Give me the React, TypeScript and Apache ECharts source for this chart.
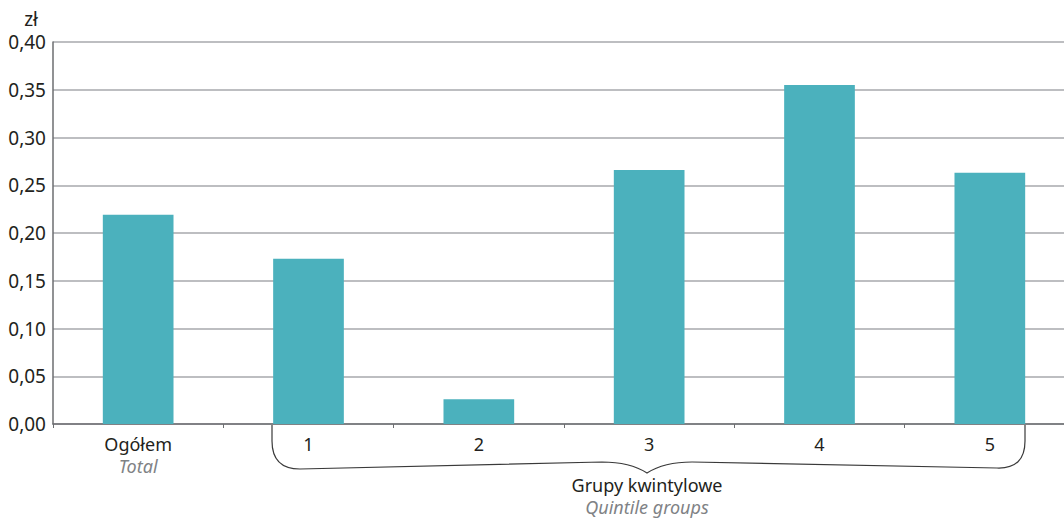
import React, { useEffect, useRef } from "react";
import * as echarts from "echarts";

const categories = ["Ogółem", "1", "2", "3", "4", "5"];
const subLabels = ["Total", "", "", "", "", ""];
const values = [0.219, 0.173, 0.026, 0.266, 0.355, 0.263];
const groupTitle = "Grupy kwintylowe";
const groupSubtitle = "Quintile groups";
const unitLabel = "zł";

const FONT = "'Noto Sans', sans-serif";

const bracePath =
  "M0,0 L0,16 Q0,44 28,44 L330,37 Q358,37 375,48 Q392,37 420,37 L725,43 Q753,44 753,16 L753,0";

export default function App() {
  const ref = useRef<HTMLDivElement>(null);
  useEffect(() => {
    document.body.style.margin = "0";
    try {
      echarts.graphic.registerShape("brace", echarts.graphic.extendPath(bracePath, {}) as any);
    } catch (e) {}
    const chart = echarts.init(ref.current!, null, { renderer: "svg" });
    chart.setOption({
      animation: false,
      textStyle: { fontFamily: FONT },
      grid: {
        left: 53,
        top: 42,
        width: 1022,
        height: 382,
        containLabel: false,
        outerBoundsMode: "none",
      },
      xAxis: {
        type: "category",
        data: categories,
        axisLine: { lineStyle: { color: "#6d6e71", width: 1.5 } },
        axisTick: { show: true, length: 4, lineStyle: { color: "#6d6e71" } },
        axisLabel: {
          interval: 0,
          margin: 9,
          formatter: (v: string, i: number) =>
            subLabels[i] ? `{a|${v}}\n{b|${subLabels[i]}}` : `{a|${v}}`,
          rich: {
            a: { fontSize: 18, color: "#231f20", fontFamily: FONT, lineHeight: 22 },
            b: { fontSize: 18, color: "#808285", fontStyle: "italic", fontFamily: FONT, lineHeight: 22 },
          },
        },
      },
      yAxis: {
        type: "value",
        min: 0,
        max: 0.4,
        interval: 0.05,
        name: unitLabel,
        nameLocation: "end",
        nameGap: 14,
        nameTextStyle: { fontSize: 19, color: "#231f20", align: "right", padding: [0, 15, 0, 0] },
        axisLine: { show: true, lineStyle: { color: "#6d6e71", width: 1.5 } },
        axisTick: { show: false },
        splitLine: { lineStyle: { color: "#a7a9ac", width: 1.5 } },
        axisLabel: {
          fontSize: 19,
          color: "#231f20",
          margin: 7,
          formatter: (v: number) => v.toFixed(2).replace(".", ","),
        },
      },
      series: [
        {
          type: "bar",
          data: values,
          barWidth: "41.5%",
          itemStyle: { color: "#4bb1bd" },
        },
      ],
      graphic: [
        {
          type: "brace",
          x: 272,
          y: 425,
          shape: {},
          style: { fill: "none", stroke: "#3a3a3a", lineWidth: 1.2 },
        },
        {
          type: "text",
          x: 647,
          y: 496,
          style: {
            text: `{a|${groupTitle}}\n{b|${groupSubtitle}}`,
            fontFamily: FONT,
            align: "center",
            verticalAlign: "middle",
            rich: {
              a: { fontSize: 18, fill: "#231f20", fontFamily: FONT, lineHeight: 22 },
              b: { fontSize: 18, fill: "#808285", fontStyle: "italic", fontFamily: FONT, lineHeight: 22 },
            },
          },
        },
      ],
    });
    return () => chart.dispose();
  }, []);
  return <div ref={ref} style={{ width: 1064, height: 519 }} />;
}
